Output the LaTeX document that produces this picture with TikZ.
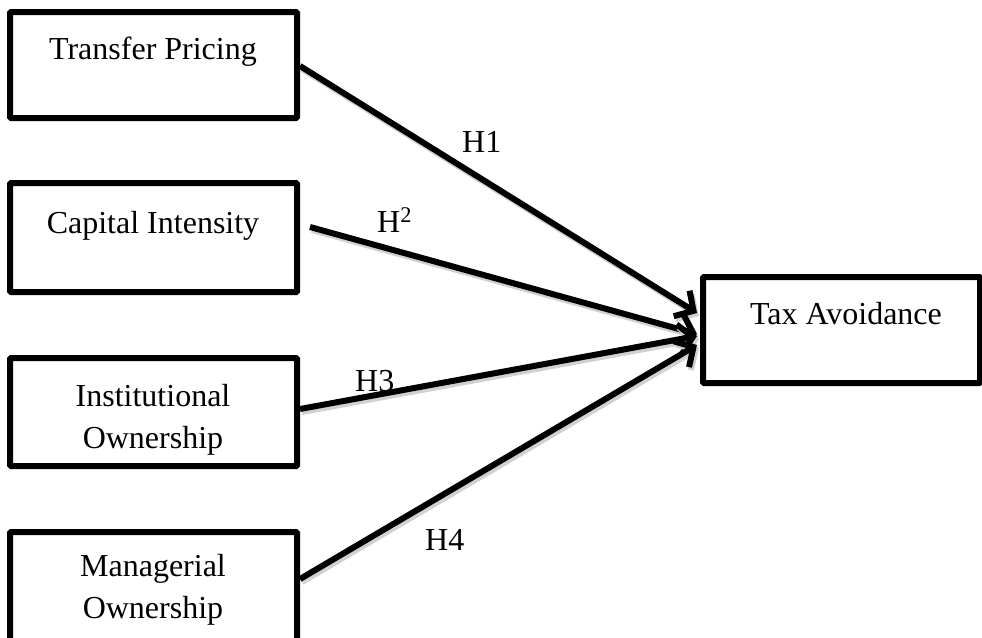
\documentclass[tikz,border=0pt]{standalone}
\usepackage{fontspec}
\setmainfont{Liberation Serif}
\usetikzlibrary{arrows.meta,calc}
\begin{document}
\begin{tikzpicture}[x=1pt,y=-1pt,
  box/.style={draw=black, line width=6pt, rounded corners=1pt, inner sep=0pt, fill=white},
  txt/.style={inner sep=0pt, anchor=base, font=\fontsize{32}{42}\selectfont},
  lbl/.style={inner sep=0pt, anchor=base west, font=\fontsize{32}{42}\selectfont},
  link/.style={line width=6pt, -{Straight Barb[length=14pt,width=30pt,line width=6pt]},
    preaction={draw=black!18, line width=6pt, transform canvas={shift={(2pt,-3pt)}}}}]
\useasboundingbox (0,0) rectangle (982,637);
\begin{scope}
\clip (0,0) rectangle (982,637);
% boxes
\node[box, minimum width=287pt, minimum height=106pt] (tp) at (153.5,65) {};
\node[box, minimum width=287pt, minimum height=109pt] (ci) at (153.5,237.5) {};
\node[box, minimum width=287pt, minimum height=108pt] (io) at (153.5,412) {};
\node[box, minimum width=287pt, minimum height=113pt] (mo) at (153.5,588.5) {};
\node[box, minimum width=277pt, minimum height=106pt] (ta) at (841.5,330) {};
\end{scope}
% box texts
\node[txt] (tpt) at (153,59) {Transfer Pricing};
\node[txt] (cit) at (153,233) {Capital Intensity};
\node[txt] (iot1) at (153,406) {Institutional};
\node[txt] (iot2) at (153,448) {Ownership};
\node[txt] (mot1) at (153,576) {Managerial};
\node[txt] (mot2) at (153,618) {Ownership};
\node[txt] (tat) at (846,324) {Tax Avoidance};
% connectors
\coordinate (s1) at ($(tp.north east)+(0,57)$);
\coordinate (s2) at ($(ci.north east)+(10,47)$);
\coordinate (s3) at ($(io.north east)+(0,54)$);
\coordinate (s4) at ($(mo.north east)+(0,50)$);
\coordinate (e1) at ($(ta.west)+(-3,-17)$);
\coordinate (e2) at ($(ta.west)+(-3,4)$);
\coordinate (e3) at ($(ta.west)+(-3,6)$);
\coordinate (e4) at ($(ta.west)+(-3,15)$);
\draw[link] (s1) -- (e1);
\draw[link] (s2) -- (e2);
\draw[link] (s3) -- (e3);
\draw[link] (s4) -- (e4);
% labels
\node[lbl] (h1) at (462,152) {H1};
\node[lbl] (h2) at (377,232) {H\textsuperscript{2}};
\node[lbl] (h3) at (355,391) {H3};
\node[lbl] (h4) at (425,550) {H4};
\end{tikzpicture}
\end{document}
